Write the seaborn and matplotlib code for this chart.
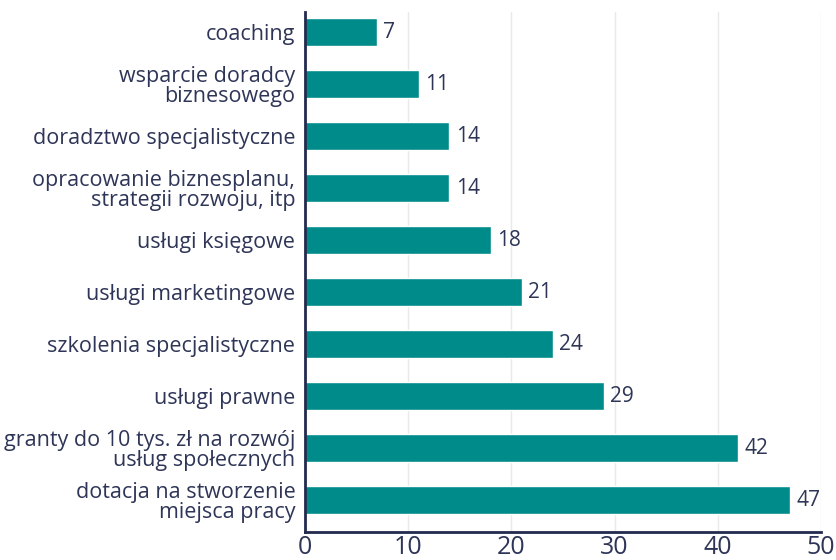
import pandas as pd
import seaborn as sns
import matplotlib.pyplot as plt

# Data
categories = [
    "coaching",
    "wsparcie doradcy\nbiznesowego",
    "doradztwo specjalistyczne",
    "opracowanie biznesplanu,\nstrategii rozwoju, itp",
    "usługi księgowe",
    "usługi marketingowe",
    "szkolenia specjalistyczne",
    "usługi prawne",
    "granty do 10 tys. zł na rozwój\nusług społecznych",
    "dotacja na stworzenie\nmiejsca pracy",
]
values = [7, 11, 14, 14, 18, 21, 24, 29, 42, 47]
x_ticks = [0, 10, 20, 30, 40, 50]

BAR_COLOR = "#008b8b"
TEXT_COLOR = "#2e3557"
SPINE_COLOR = "#232a4d"

df = pd.DataFrame({"category": categories, "value": values})

sns.set_theme(style="white")
plt.rcParams["font.family"] = ["Open Sans", "DejaVu Sans"]

fig = plt.figure(figsize=(8.36, 5.6), dpi=100)
ax = fig.add_axes([305 / 836, 28 / 560, 516 / 836, 520 / 560])

sns.barplot(data=df, x="value", y="category", color=BAR_COLOR,
            width=0.54, saturation=1, ax=ax)

for i, v in enumerate(values):
    ax.text(v + 0.6, i, str(v), va="center", ha="left",
            fontsize=15, color=TEXT_COLOR)

ax.set_xlim(0, 50)
ax.set_ylim(9.615, -0.385)
ax.set_xticks(x_ticks)
ax.set_xlabel("")
ax.set_ylabel("")
ax.xaxis.grid(True, color="#e9e9ec", linewidth=1)
ax.set_axisbelow(True)

for s in ["top", "right"]:
    ax.spines[s].set_visible(False)
for s in ["left", "bottom"]:
    ax.spines[s].set_color(SPINE_COLOR)
    ax.spines[s].set_linewidth(2)

ax.tick_params(axis="x", labelsize=18, colors=TEXT_COLOR, length=0, pad=2)
ax.tick_params(axis="y", labelsize=15.5, colors=TEXT_COLOR, length=0, pad=7)
for lbl in ax.get_yticklabels():
    lbl.set_horizontalalignment("right")
    lbl.set_linespacing(0.95)

fig.savefig("out.png", dpi=100)
